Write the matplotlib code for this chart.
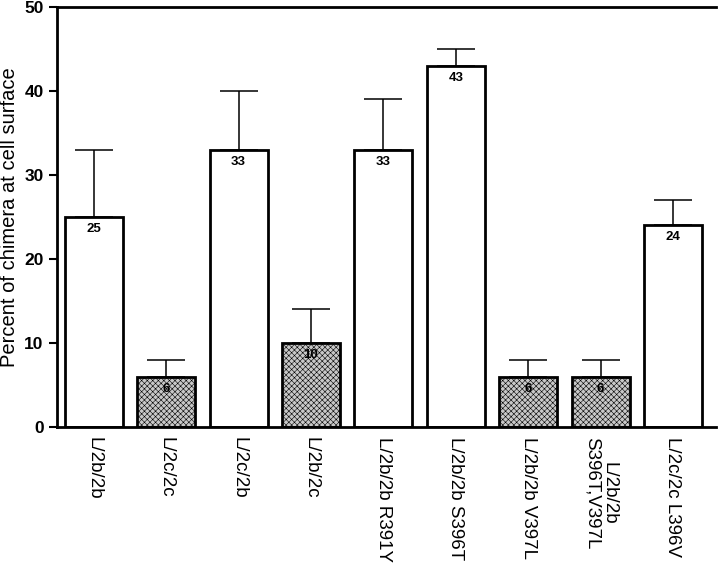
import matplotlib.pyplot as plt
import numpy as np

# data
labels = ['L/2b/2b', 'L/2c/2c', 'L/2c/2b', 'L/2b/2c', 'L/2b/2b R391Y',
          'L/2b/2b S396T', 'L/2b/2b V397L', 'L/2b/2b\nS396T,V397L', 'L/2c/2c L396V']
values = [25, 6, 33, 10, 33, 43, 6, 6, 24]
errors = [8, 2, 7, 4, 6, 2, 2, 2, 3]
shaded = [False, True, False, True, False, False, True, True, False]

plt.rcParams['font.family'] = ['Liberation Sans', 'DejaVu Sans']
plt.rcParams['hatch.color'] = '#8e8e8e'
plt.rcParams['hatch.linewidth'] = 0.4

fig = plt.figure(figsize=(7.2, 5.71), dpi=100)
ax = fig.add_axes([0.079, 0.252, 0.915, 0.736])

x = np.arange(len(values))
for i in x:
    ax.errorbar(i, values[i], yerr=[[0], [errors[i]]], color='black',
                elinewidth=1.1, capsize=14, capthick=1.1, zorder=1)
    if shaded[i]:
        ax.bar(i, values[i], width=0.8, facecolor='#c8c8c8', edgecolor='black',
               linewidth=2, hatch='xxxxxx', zorder=2)
    else:
        ax.bar(i, values[i], width=0.8, facecolor='white', edgecolor='black',
               linewidth=2, zorder=2)
    ax.text(i, values[i] - 0.7, str(values[i]), ha='center', va='top',
            fontsize=9.5, fontweight='bold', zorder=3)

ax.set_xlim(-0.51, 8.59)
ax.set_ylim(0, 50)
ax.set_yticks([0, 10, 20, 30, 40, 50])
ax.set_xticks(x)
ax.set_xticklabels(labels, rotation=270, fontsize=13.5, ha='center', va='top',
                   linespacing=1.0)
ax.tick_params(axis='x', length=0, pad=7)
ax.tick_params(axis='y', direction='out', length=6, width=1.5, labelsize=12.5)
for t in ax.get_yticklabels():
    t.set_fontweight('bold')
ax.set_ylabel('Percent of chimera at cell surface', fontsize=14.5)
ax.yaxis.set_label_coords(-0.057, 0.5)

for s in ['left', 'bottom', 'top']:
    ax.spines[s].set_linewidth(2)
ax.spines['right'].set_visible(False)

plt.savefig('out.png', dpi=100)
